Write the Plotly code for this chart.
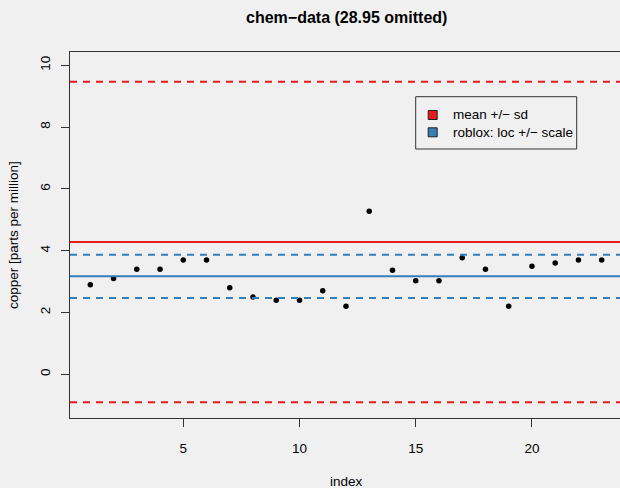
import plotly.graph_objects as go

# data (chem data, 28.95 omitted)
index = list(range(1, 24))
copper = [2.90, 3.10, 3.40, 3.40, 3.70, 3.70, 2.80, 2.50, 2.40, 2.40, 2.70, 2.20,
          5.28, 3.37, 3.03, 3.03, 3.77, 3.40, 2.20, 3.50, 3.60, 3.70, 3.70]
mean_val = 4.28
sd_val = 5.186
loc_val = 3.17
scale_val = 0.70
legend_labels = ["mean +/\u2212 sd", "roblox: loc +/\u2212 scale"]
legend_colors = ["#E41A1C", "#377EB8"]
x_ticks = [5, 10, 15, 20]
y_ticks = [0, 2, 4, 6, 8, 10]

W, H = 620, 488
ML, MR, MT, MB = 70, 0, 52, 70
PW, PH = W - ML - MR, H - MT - MB
FONT = "Liberation Sans, Arial, Helvetica, sans-serif"


def xp(px):
    return (px - ML) / PW


def yp(py):
    return (H - MB - py) / PH


fig = go.Figure()
fig.add_trace(go.Scatter(x=index, y=copper, mode="markers",
                         marker=dict(color="black", size=5.5), showlegend=False,
                         hoverinfo="skip"))

shapes = []
dash = "7px,6px"
lines = [
    (mean_val, legend_colors[0], "solid"),
    (mean_val + sd_val, legend_colors[0], dash),
    (mean_val - sd_val, legend_colors[0], dash),
    (loc_val, legend_colors[1], "solid"),
    (loc_val + scale_val, legend_colors[1], dash),
    (loc_val - scale_val, legend_colors[1], dash),
]
for yv, col, ds in lines:
    shapes.append(dict(type="line", xref="paper", yref="y", x0=0, x1=1, y0=yv, y1=yv,
                       line=dict(color=col, width=2, dash=ds), layer="above"))

# legend box
shapes.append(dict(type="rect", xref="paper", yref="paper",
                   x0=xp(415.7), x1=xp(576.7), y0=yp(149), y1=yp(96.7),
                   line=dict(color="#333333", width=1), fillcolor="#F0F0F0", layer="above"))
annotations = []
for i, (lab, col) in enumerate(zip(legend_labels, legend_colors)):
    cy = 115 + i * 17.3
    shapes.append(dict(type="rect", xref="paper", yref="paper",
                       x0=xp(428.2), x1=xp(437.2), y0=yp(cy + 4.5), y1=yp(cy - 4.5),
                       line=dict(color="#222222", width=1), fillcolor=col, layer="above"))
    annotations.append(dict(text=lab, xref="paper", yref="paper", x=xp(450.5), y=yp(cy),
                            xanchor="left", yanchor="middle", showarrow=False,
                            font=dict(family=FONT, size=13.5, color="black")))

# title and axis titles
annotations.append(dict(text="<b>chem\u2212data (28.95 omitted)</b>", xref="paper", yref="paper",
                        x=xp(346), y=yp(17), xanchor="center", yanchor="middle",
                        showarrow=False, font=dict(family=FONT, size=16, color="black")))
annotations.append(dict(text="index", xref="paper", yref="paper",
                        x=xp(346), y=yp(481), xanchor="center", yanchor="middle",
                        showarrow=False, font=dict(family=FONT, size=13.5, color="black")))
annotations.append(dict(text="copper [parts per million]", xref="paper", yref="paper",
                        x=xp(13), y=yp(235), xanchor="center", yanchor="middle", textangle=-90,
                        showarrow=False, font=dict(family=FONT, size=13.5, color="black")))

fig.update_layout(
    width=W, height=H,
    margin=dict(l=ML, r=MR, t=MT, b=MB, pad=0),
    paper_bgcolor="#F0F0F0", plot_bgcolor="#F0F0F0",
    shapes=shapes, annotations=annotations,
    font=dict(family=FONT, size=13.5, color="black"),
    xaxis=dict(range=[0.127, 23.788], tickvals=x_ticks, ticktext=[str(v) for v in x_ticks],
               showgrid=False, zeroline=False, showline=True, linecolor="#333333", linewidth=1,
               mirror=True, ticks="outside", ticklen=8, tickcolor="#333333", tickwidth=1,
               ticklabelstandoff=10,
               tickfont=dict(family=FONT, size=13.5, color="black")),
    yaxis=dict(range=[-1.414, 10.43], tickvals=y_ticks, ticktext=[str(v) for v in y_ticks],
               showgrid=False, zeroline=False, showline=True, linecolor="#333333", linewidth=1,
               mirror=False, ticks="outside", ticklen=8, tickcolor="#333333", tickwidth=1,
               tickangle=-90, ticklabelstandoff=6,
               tickfont=dict(family=FONT, size=13.5, color="black")),
    showlegend=False,
)

fig.write_html("out.html", config={"displayModeBar": False},
               post_script="document.body.style.margin='0';document.body.style.overflow='hidden';document.body.style.background='#F0F0F0';")
